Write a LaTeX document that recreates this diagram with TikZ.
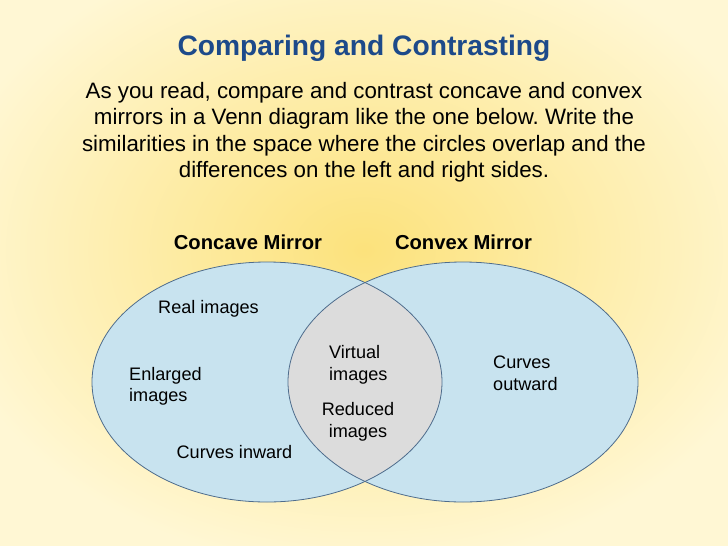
\documentclass[tikz,border=0pt]{standalone}
\usepackage{fontspec}
\setmainfont{Liberation Sans}
\usepackage{xcolor}
\usepackage{tikz}
\frenchspacing
\definecolor{titleblue}{HTML}{1D4A8A}
\definecolor{bgyellow}{HTML}{FFF7D4}
\definecolor{glowyellow}{HTML}{FCE27C}
\definecolor{setblue}{HTML}{C8E3EF}
\definecolor{overlapgray}{HTML}{DCDCDC}
\definecolor{rimblue}{HTML}{4E6C8C}
\tikzstyle{heading} = [font=\fontsize{28.2}{33}\selectfont\bfseries, text=titleblue, inner sep=0pt]
\tikzstyle{intro} = [font=\fontsize{22.3}{26.5}\selectfont, align=center, inner sep=0pt]
\tikzstyle{setname} = [font=\fontsize{20.2}{24}\selectfont\bfseries, inner sep=0pt]
\tikzstyle{entry} = [font=\fontsize{18.1}{21.5}\selectfont, inner sep=0pt]
\tikzstyle{rim} = [draw=rimblue, line width=0.8pt]

\begin{document}
\begin{tikzpicture}[x=1pt, y=-1pt]
        % Background
        \useasboundingbox (0,0) rectangle (728,546);
        \fill[bgyellow] (0,0) rectangle (728,546);
        \shade[inner color=glowyellow, outer color=bgyellow] (364,250) ellipse [x radius=430pt, y radius=320pt];

        % Sets
        \fill[setblue] (267,382) ellipse [x radius=175pt, y radius=120pt];
        \fill[setblue] (463,382) ellipse [x radius=175pt, y radius=120pt];
        \begin{scope}
            \clip (267,382) ellipse [x radius=175pt, y radius=120pt];
            \fill[overlapgray] (463,382) ellipse [x radius=175pt, y radius=120pt];
        \end{scope}
        \draw[rim] (267,382) ellipse [x radius=175pt, y radius=120pt];
        \draw[rim] (463,382) ellipse [x radius=175pt, y radius=120pt];

        % Nodes (base = last line)
        \node (heading) [heading, anchor=base] at (364,55) {Comparing and Contrasting};
        \node (intro) [intro, anchor=base] at (364,177.5) {As you read, compare and contrast concave and convex\\mirrors in a Venn diagram like the one below. Write the\\similarities in the space where the circles overlap and the\\differences on the left and right sides.};

        \node (concave) [setname] at (248,242) {Concave Mirror};
        \node (convex) [setname] at (463.5,242) {Convex Mirror};

        \node (real) [entry, anchor=base] at (208.5,313) {Real images};
        \node (enlarged) [entry, align=left, anchor=base west] at (129,401.5) {Enlarged\\images};
        \node (inward) [entry, anchor=base] at (234.5,458.5) {Curves inward};
        \node (virtual) [entry, align=left, anchor=base west] at (329,380) {Virtual\\images};
        \node (reduced) [entry, align=center, anchor=base] at (358,437) {Reduced\\images};
        \node (outward) [entry, align=left, anchor=base west] at (493,390) {Curves\\outward};

    \end{tikzpicture}
\end{document}
